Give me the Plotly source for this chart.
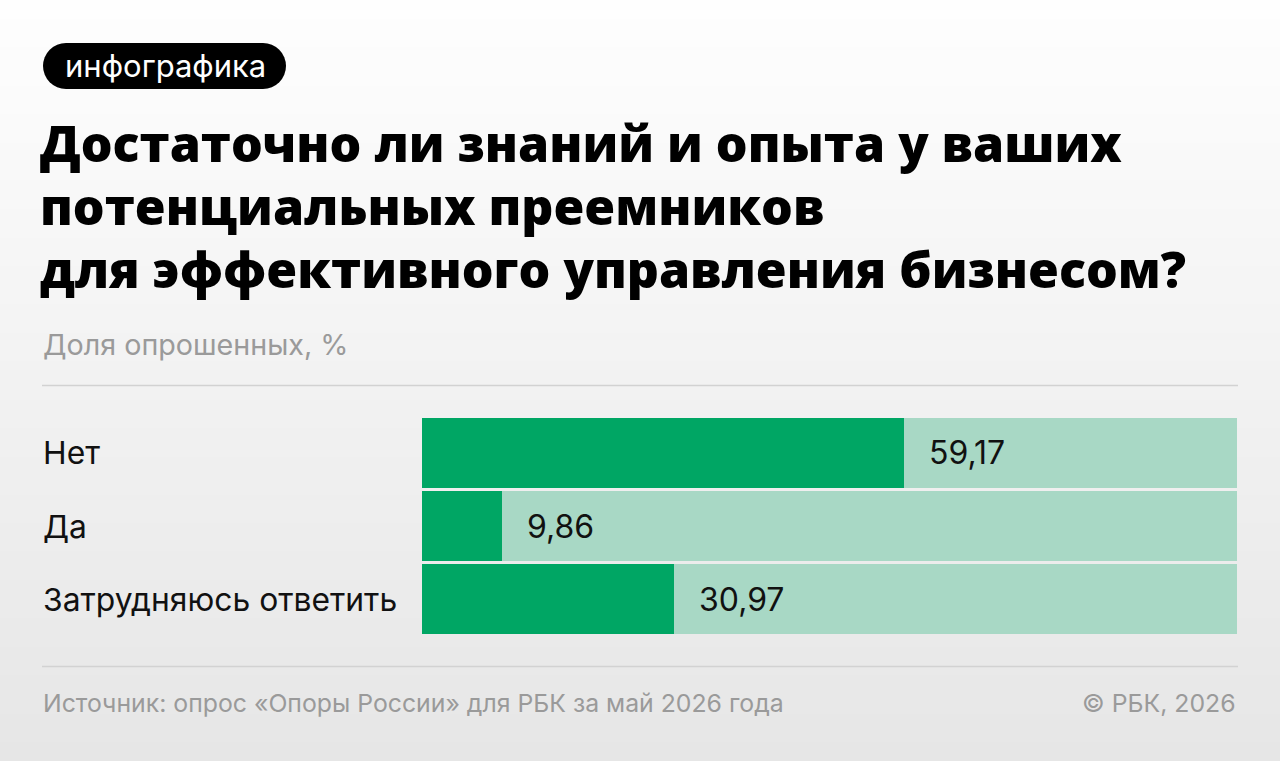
import plotly.graph_objects as go

W, H = 1280, 761

categories = ["Нет", "Да", "Затрудняюсь ответить"]
values = [59.17, 9.86, 30.97]
value_labels = ["59,17", "9,86", "30,97"]
remainder = [100 - v for v in values]

title_lines = ["Достаточно ли знаний и опыта у ваших",
               "потенциальных преемников",
               "для эффективного управления бизнесом?"]
subtitle = "Доля опрошенных, %"
badge = "инфографика"
source = "Источник: опрос «Опоры России» для РБК за май 2026 года"
copyright_text = "© РБК, 2026"

DARK = "#00a664"
LIGHT = "#a8d8c5"
FONT = "Inter"
TITLE_FONT = "Open Sans"


def px(x):
    return x / W


def py(y):
    return 1 - y / H


fig = go.Figure()
fig.add_trace(go.Bar(y=categories, x=values, orientation="h",
                     marker=dict(color=DARK, line=dict(width=0)),
                     hoverinfo="skip", showlegend=False))
fig.add_trace(go.Bar(y=categories, x=remainder, orientation="h",
                     marker=dict(color=LIGHT, line=dict(width=0)),
                     hoverinfo="skip", showlegend=False))

shapes = []
# background vertical gradient
n = 80
c0, c1 = 254, 230
for i in range(n):
    t = i / (n - 1)
    c = round(c0 + (c1 - c0) * t)
    shapes.append(dict(type="rect", xref="paper", yref="paper",
                       x0=0, x1=1, y0=1 - (i + 1) / n - 0.002, y1=1 - i / n,
                       fillcolor=f"rgb({c},{c},{c})", line=dict(width=0),
                       layer="below"))
# badge pill
shapes.append(dict(type="rect", xref="paper", yref="paper",
                   x0=px(66), x1=px(263), y0=py(89), y1=py(43),
                   fillcolor="#000", line=dict(width=0), layer="below"))
shapes.append(dict(type="circle", xref="paper", yref="paper",
                   x0=px(43), x1=px(89), y0=py(89), y1=py(43),
                   fillcolor="#000", line=dict(width=0), layer="below"))
shapes.append(dict(type="circle", xref="paper", yref="paper",
                   x0=px(240), x1=px(286), y0=py(89), y1=py(43),
                   fillcolor="#000", line=dict(width=0), layer="below"))
# separator lines
for yy in (385.5, 666.5):
    shapes.append(dict(type="line", xref="paper", yref="paper",
                       x0=px(42), x1=px(1238), y0=py(yy), y1=py(yy),
                       line=dict(color="#d2d2d2", width=1.5), layer="below"))

annotations = []
annotations.append(dict(text=badge, xref="paper", yref="paper",
                        x=px(165), y=py(66), xanchor="center", yanchor="middle",
                        showarrow=False, font=dict(family=FONT, size=31, color="#fff")))
for i, line in enumerate(title_lines):
    annotations.append(dict(text=line, xref="paper", yref="paper",
                            x=px(38), y=py(143 + i * 63), xanchor="left", yanchor="middle",
                            showarrow=False,
                            font=dict(family=TITLE_FONT, size=50, color="#000", weight=800)))
annotations.append(dict(text=subtitle, xref="paper", yref="paper",
                        x=px(41), y=py(344), xanchor="left", yanchor="middle",
                        showarrow=False, font=dict(family=FONT, size=28.7, color="#9a9a9a")))
for cat, v, lab in zip(categories, values, value_labels):
    annotations.append(dict(text=cat, xref="paper", yref="y",
                            x=px(41), y=cat, xanchor="left", yanchor="middle",
                            showarrow=False, font=dict(family=FONT, size=31.8, color="#111")))
    annotations.append(dict(text=lab, xref="x", yref="y",
                            x=v, y=cat, xanchor="left", yanchor="middle", xshift=23,
                            showarrow=False, font=dict(family=FONT, size=32, color="#111")))
annotations.append(dict(text=source, xref="paper", yref="paper",
                        x=px(41), y=py(703), xanchor="left", yanchor="middle",
                        showarrow=False, font=dict(family=FONT, size=24.8, color="#9a9a9a")))
annotations.append(dict(text=copyright_text, xref="paper", yref="paper",
                        x=px(1238), y=py(703), xanchor="right", yanchor="middle",
                        showarrow=False, font=dict(family=FONT, size=24.8, color="#9a9a9a")))

fig.update_layout(
    width=W, height=H,
    margin=dict(l=0, r=0, t=0, b=0),
    paper_bgcolor="#f2f2f2", plot_bgcolor="rgba(0,0,0,0)",
    barmode="stack", bargap=0.04,
    xaxis=dict(domain=[px(422), px(1237)], range=[0, 100], visible=False, fixedrange=True),
    yaxis=dict(domain=[py(635.5), py(416.5)], autorange="reversed",
               categoryorder="array", categoryarray=categories,
               visible=False, fixedrange=True),
    shapes=shapes, annotations=annotations,
    showlegend=False,
)

fig.write_html("out.html", config={"displayModeBar": False})
